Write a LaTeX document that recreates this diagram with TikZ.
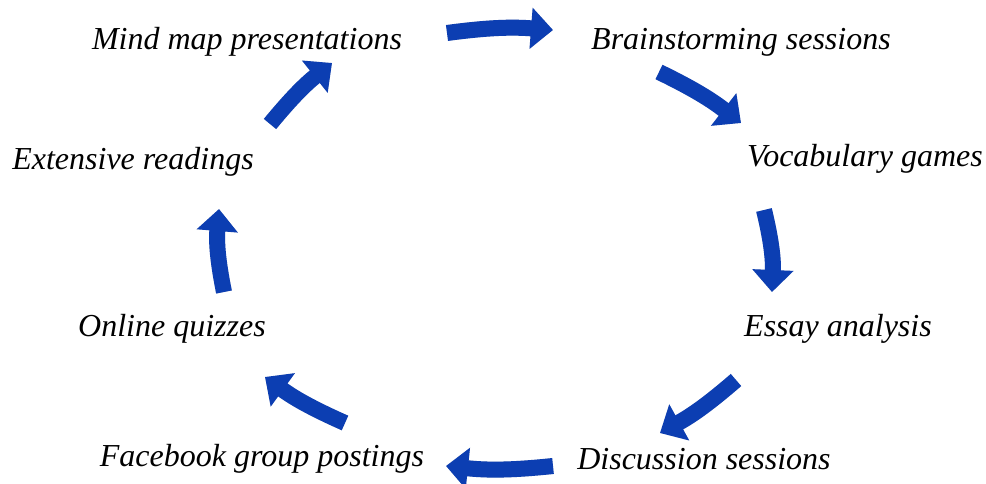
\documentclass[tikz,border=0pt]{standalone}
\usepackage{fontspec}
\setmainfont{Liberation Serif}
\usetikzlibrary{arrows.meta}
\definecolor{arrowblue}{RGB}{12,62,178}
\tikzset{
  lbl/.style={font=\fontsize{32}{35}\selectfont\itshape, inner sep=0pt, anchor=center},
  blockarrow/.style={arrowblue, line width=16pt, line cap=butt, -{Triangle[width=40pt,length=22pt]}},
  shadowarrow/.style={black!25, opacity=0.5, line width=16pt, line cap=butt, -{Triangle[width=40pt,length=22pt]}}
}
\begin{document}
\begin{tikzpicture}[x=1pt,y=-1pt]
\useasboundingbox (0,0) rectangle (986,484);
% labels
\node[lbl] (mind) at (247,42) {Mind map presentations};
\node[lbl] (brain) at (741,42) {Brainstorming sessions};
\node[lbl] (vocab) at (865,159) {Vocabulary games};
\node[lbl] (essay) at (838,329) {Essay analysis};
\node[lbl] (disc) at (704,459) {Discussion sessions};
\node[lbl] (face) at (262,459) {Facebook group postings};
\node[lbl] (quiz) at (172,329) {Online quizzes};
\node[lbl] (ext) at (133,162) {Extensive readings};
% arrow endpoints
\coordinate (a1s) at (447,33); \coordinate (a1e) at (553,30);
\coordinate (a2s) at (659,72); \coordinate (a2e) at (741,123);
\coordinate (a3s) at (764,210); \coordinate (a3e) at (772,292);
\coordinate (a4s) at (736,380); \coordinate (a4e) at (660,433);
\coordinate (a5s) at (553,466); \coordinate (a5e) at (446,466);
\coordinate (a6s) at (345,423); \coordinate (a6e) at (265,377);
\coordinate (a7s) at (224,292); \coordinate (a7e) at (219,209);
\coordinate (a8s) at (270,124); \coordinate (a8e) at (332,63);
% shadows
\begin{scope}[shift={(4,6)}]
\draw[shadowarrow] (a1s) to[bend left=6] (a1e);
\draw[shadowarrow] (a2s) to[bend left=6] (a2e);
\draw[shadowarrow] (a3s) to[bend left=8] (a3e);
\draw[shadowarrow] (a4s) to[bend left=6] (a4e);
\draw[shadowarrow] (a5s) to[bend left=6] (a5e);
\draw[shadowarrow] (a6s) to[bend left=6] (a6e);
\draw[shadowarrow] (a7s) to[bend left=8] (a7e);
\draw[shadowarrow] (a8s) to[bend left=6] (a8e);
\end{scope}
% arrows
\draw[blockarrow] (a1s) to[bend left=6] (a1e);
\draw[blockarrow] (a2s) to[bend left=6] (a2e);
\draw[blockarrow] (a3s) to[bend left=8] (a3e);
\draw[blockarrow] (a4s) to[bend left=6] (a4e);
\draw[blockarrow] (a5s) to[bend left=6] (a5e);
\draw[blockarrow] (a6s) to[bend left=6] (a6e);
\draw[blockarrow] (a7s) to[bend left=8] (a7e);
\draw[blockarrow] (a8s) to[bend left=6] (a8e);
\end{tikzpicture}
\end{document}
